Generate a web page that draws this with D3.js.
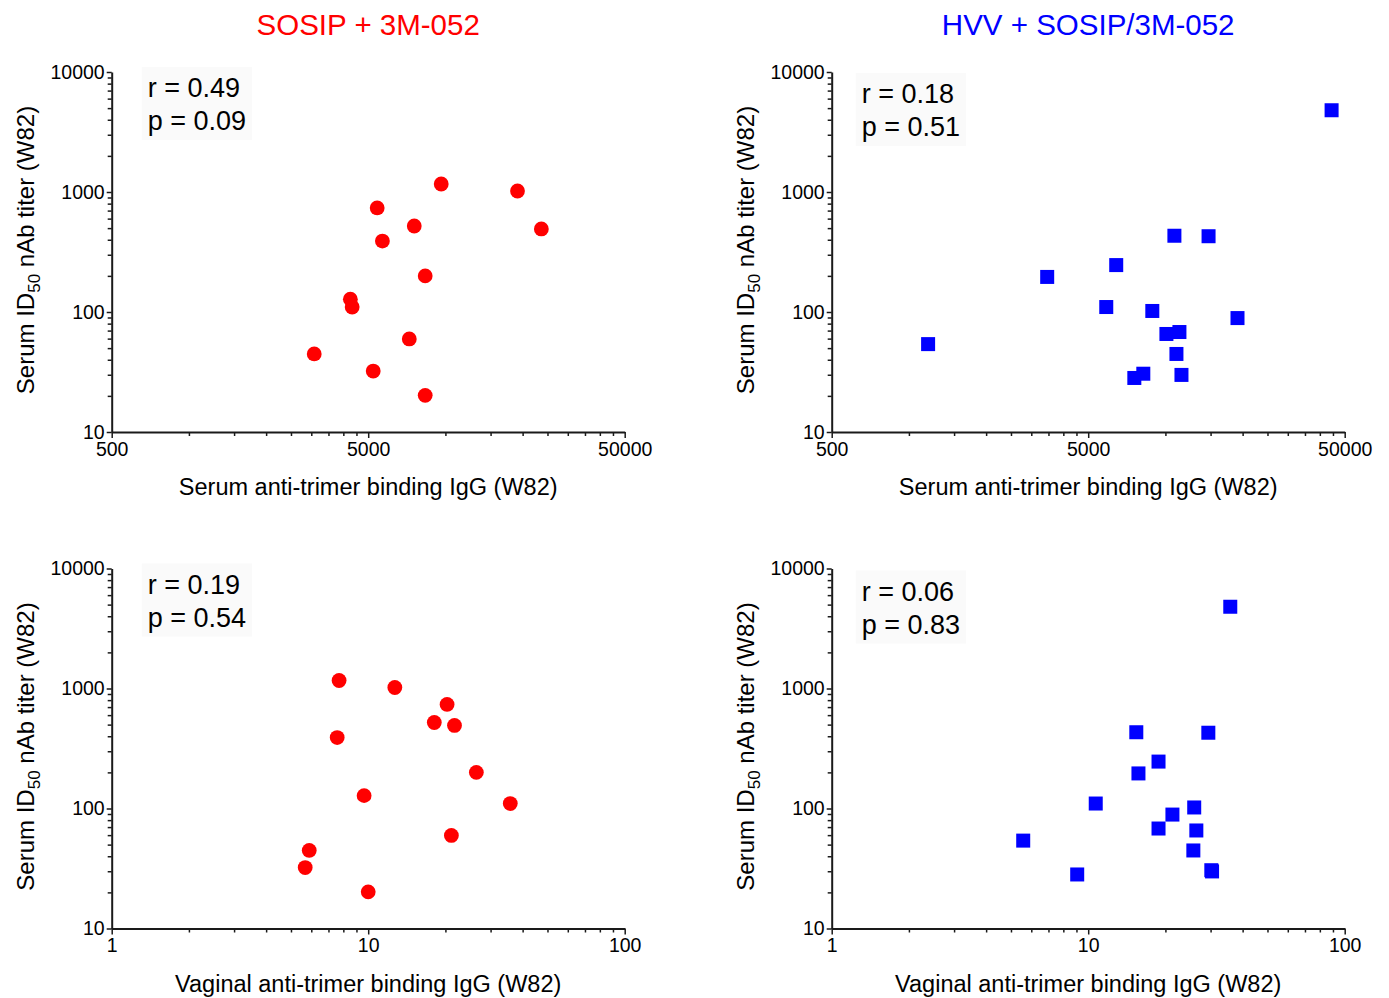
<!DOCTYPE html>
<html lang="en">
<head>
  <meta charset="UTF-8">
  <title>Serum nAb titer vs anti-trimer binding IgG</title>
  <script src="https://d3js.org/d3.v7.min.js"></script>
  <style>
    body { margin: 0; background: #fff; }
    svg text { font-family: "Liberation Sans", Arial, Helvetica, sans-serif; fill: #000; }
    .axis path, .axis line { stroke: #1a1a1a; }
    .axis path { stroke-width: 2px; }
    .axis line { stroke-width: 1.5px; }
  </style>
</head>
<body>
<svg id="chart" width="1389" height="998"></svg>
<script>
// tick labels for the log axes
const serumTicks = [500, 5000, 50000];
const vaginalTicks = [1, 10, 100];
const titerTicks = [10, 100, 1000, 10000];

// SOSIP + 3M-052 group (one entry per animal)
const sosipTiter      = [1166, 1019, 736, 521, 492, 390, 200, 128, 110, 59.6, 44.7, 32.2, 20.2];
const sosipSerumIgG   = [9630, 19100, 5420, 7560, 23660, 5680, 8340, 4260, 4330, 7230, 3080, 5230, 8340];
const sosipVaginalIgG = [7.7, 12.7, 20.3, 18.1, 21.7, 7.57, 26.4, 9.64, 35.8, 21.1, 5.89, 5.68, 10.0];

// HVV + SOSIP/3M-052 group
const hvvTiter      = [4800, 432, 428, 246, 196, 110, 102, 89, 68.1, 65.6, 54, 44.7, 30.6, 29.9, 28.2];
const hvvSerumIgG   = [44450, 10840, 14730, 6430, 3460, 5880, 8890, 19100, 11340, 10090, 1188, 11040, 8200, 11550, 7565];
const hvvVaginalIgG = [35.8, 15.4, 29.4, 18.8, 15.7, 10.7, 25.9, 21.3, 18.8, 26.4, 5.58, 25.7, 30.2, 30.4, 9.06];

// correlation stats shown in each panel
const statR = ["0.49", "0.18", "0.19", "0.06"];
const statP = ["0.09", "0.51", "0.54", "0.83"];

const groupTitles = ["SOSIP + 3M-052", "HVV + SOSIP/3M-052"];
const groupColors = ["#ff0000", "#0000ff"];

const svg = d3.select("#chart");
const W = 513, H = 360;

const panels = [
  { left: 111.7, top: 72,    xTicks: serumTicks,   xs: sosipSerumIgG,   ys: sosipTiter, group: 0, xLabel: "Serum anti-trimer binding IgG (W82)",   tx: 36, ty: 25 },
  { left: 831.7, top: 72,    xTicks: serumTicks,   xs: hvvSerumIgG,     ys: hvvTiter,   group: 1, xLabel: "Serum anti-trimer binding IgG (W82)",   tx: 30, ty: 31 },
  { left: 111.7, top: 568.5, xTicks: vaginalTicks, xs: sosipVaginalIgG, ys: sosipTiter, group: 0, xLabel: "Vaginal anti-trimer binding IgG (W82)", tx: 36, ty: 25 },
  { left: 831.7, top: 568.5, xTicks: vaginalTicks, xs: hvvVaginalIgG,   ys: hvvTiter,   group: 1, xLabel: "Vaginal anti-trimer binding IgG (W82)", tx: 30, ty: 32 }
];

// minor ticks: 2..9 times the start of each decade
function minorTicks(majors) {
  const out = [];
  for (let i = 0; i < majors.length - 1; i++) {
    for (let k = 2; k <= 9; k++) out.push(majors[i] * k);
  }
  return out;
}

panels.forEach((p, i) => {
  const g = svg.append("g").attr("transform", `translate(${p.left},${p.top})`);

  const x = d3.scaleLog()
    .domain([p.xTicks[0], p.xTicks[p.xTicks.length - 1]])
    .range([0, W]);
  const y = d3.scaleLog()
    .domain([titerTicks[0], titerTicks[titerTicks.length - 1]])
    .range([H, 0]);

  // stats box
  const stats = g.append("g").attr("transform", `translate(${p.tx},${p.ty})`);
  const bg = stats.append("rect").attr("fill", "#fafafa");
  stats.append("text").attr("x", 0).attr("y", 0)
    .style("font-size", "27px").text(`r = ${statR[i]}`);
  stats.append("text").attr("x", 0).attr("y", 33)
    .style("font-size", "27px").text(`p = ${statP[i]}`);
  const bb = stats.node().getBBox();
  bg.attr("x", bb.x - 6).attr("y", bb.y - 6)
    .attr("width", bb.width + 12).attr("height", bb.height + 10);

  // minor ticks first
  g.append("g").attr("class", "axis")
    .attr("transform", `translate(0,${H})`)
    .call(d3.axisBottom(x).tickValues(minorTicks(p.xTicks)).tickSize(4).tickSizeOuter(0).tickFormat(""))
    .select(".domain").remove();
  g.append("g").attr("class", "axis")
    .call(d3.axisLeft(y).tickValues(minorTicks(titerTicks)).tickSize(4).tickSizeOuter(0).tickFormat(""))
    .select(".domain").remove();

  // major ticks + axis lines
  g.append("g").attr("class", "axis")
    .attr("transform", `translate(0,${H})`)
    .call(d3.axisBottom(x).tickValues(p.xTicks).tickSize(6).tickSizeOuter(0).tickPadding(4).tickFormat(d3.format("d")))
    .selectAll("text").style("font-size", "19.5px");
  g.append("g").attr("class", "axis")
    .call(d3.axisLeft(y).tickValues(titerTicks).tickSize(5).tickSizeOuter(0).tickPadding(2).tickFormat(d3.format("d")))
    .selectAll("text").style("font-size", "19.5px");

  // x label
  g.append("text")
    .attr("x", W / 2).attr("y", H + 63)
    .attr("text-anchor", "middle")
    .style("font-size", "23.5px")
    .text(p.xLabel);

  // y label with subscript
  const yl = g.append("text")
    .attr("transform", `translate(-78,${H / 2 - 2}) rotate(-90)`)
    .attr("text-anchor", "middle")
    .style("font-size", "24px");
  yl.append("tspan").text("Serum ID");
  yl.append("tspan").attr("dy", 6).style("font-size", "17px").text("50");
  yl.append("tspan").attr("dy", -6).text(" nAb titer (W82)");

  // points
  const color = groupColors[p.group];
  const pts = p.xs.map((v, j) => ({ x: v, y: p.ys[j] }));
  if (p.group === 0) {
    g.selectAll("circle.pt").data(pts).enter().append("circle")
      .attr("class", "pt")
      .attr("cx", d => x(d.x))
      .attr("cy", d => y(d.y))
      .attr("r", 7.4)
      .attr("fill", color);
  } else {
    const s = 14;
    g.selectAll("rect.pt").data(pts).enter().append("rect")
      .attr("class", "pt")
      .attr("x", d => x(d.x) - s / 2)
      .attr("y", d => y(d.y) - s / 2)
      .attr("width", s).attr("height", s)
      .attr("fill", color);
  }

  // group title over the top row
  if (p.top < 100) {
    svg.append("text")
      .attr("x", p.left + W / 2).attr("y", 35)
      .attr("text-anchor", "middle")
      .style("font-size", "29.5px")
      .style("fill", color)
      .text(groupTitles[p.group]);
  }
});
</script>
</body>
</html>
